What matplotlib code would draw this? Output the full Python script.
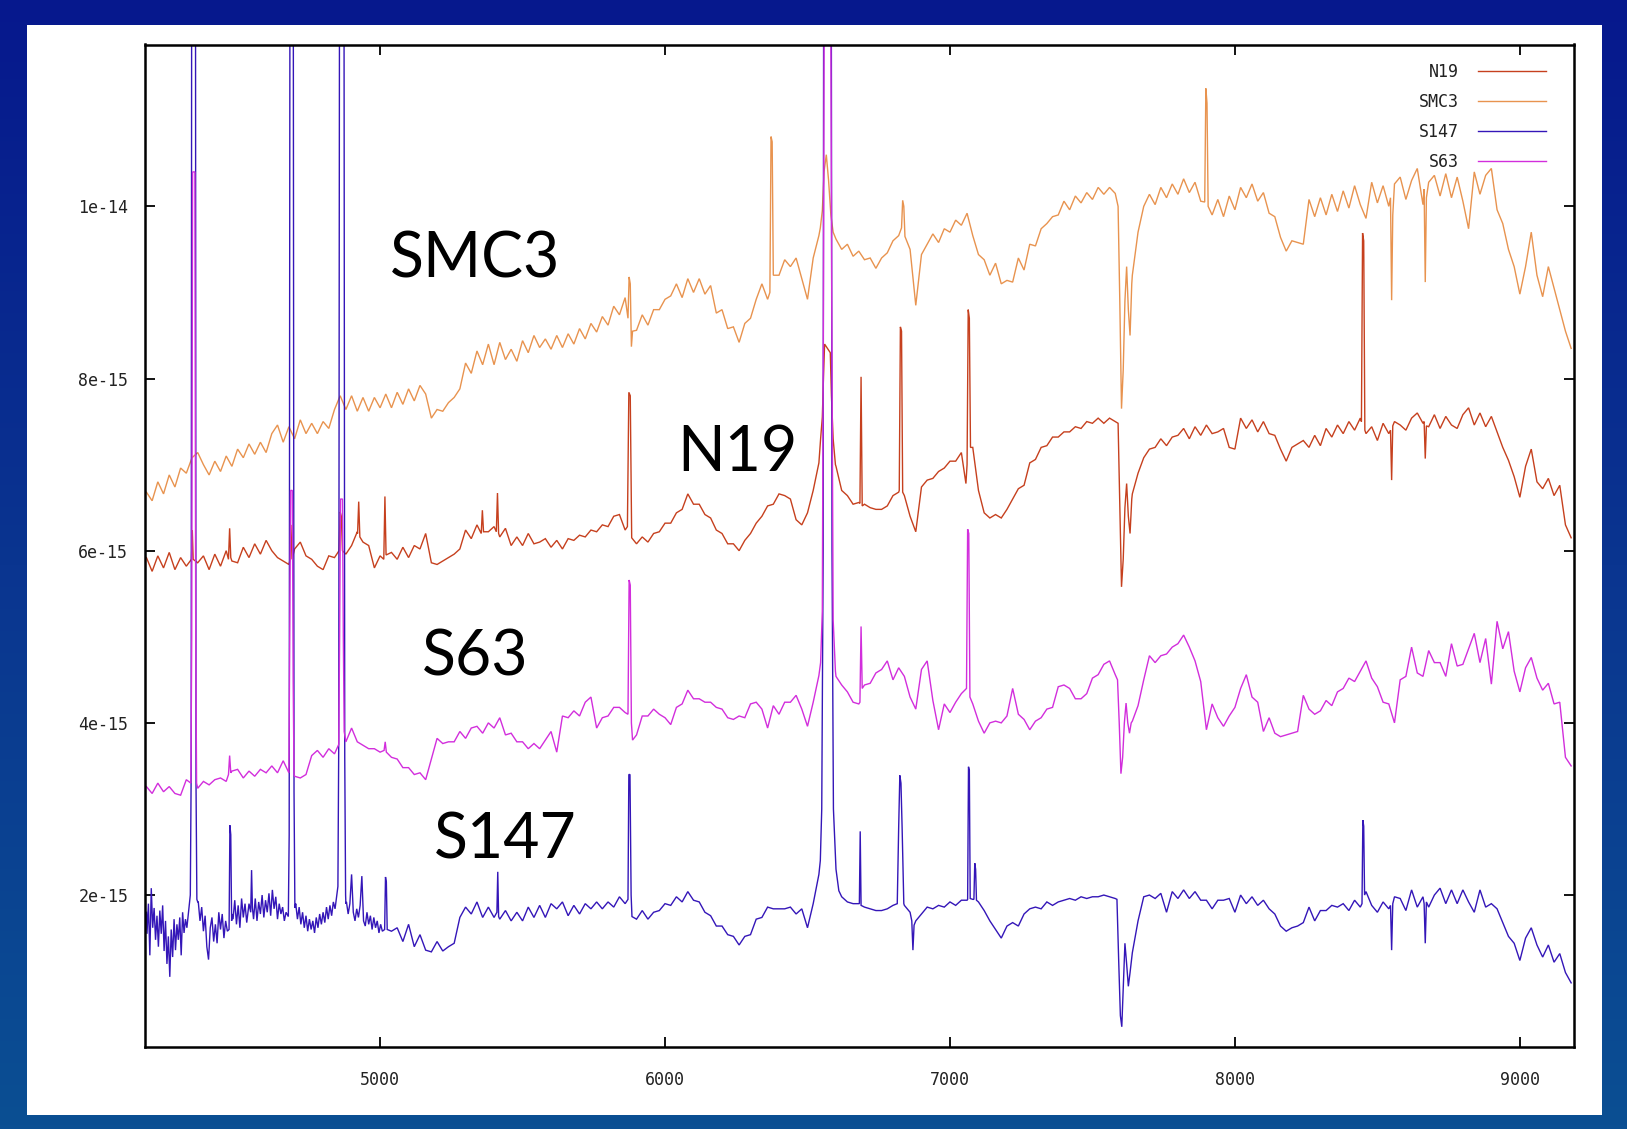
import numpy as np
import matplotlib
matplotlib.use("Agg")
import matplotlib.pyplot as plt
from matplotlib.patches import Rectangle
from matplotlib.colors import LinearSegmentedColormap

# ---------------- data (flux in units of 1e-15) ----------------
WAVE_START, WAVE_STOP, WAVE_STEP = 4180, 9180, 20
wave = np.arange(WAVE_START, WAVE_STOP + 1, WAVE_STEP)

series_names = ["N19", "SMC3", "S147", "S63"]
x_ticks = [5000, 6000, 7000, 8000, 9000]
y_ticks = [2e-15, 4e-15, 6e-15, 8e-15, 1e-14]
y_tick_labels = ["2e-15", "4e-15", "6e-15", "8e-15", "1e-14"]

smc3_cont = [
    6.68, 6.58, 6.80, 6.66, 6.88, 6.74, 6.96, 6.90, 7.08, 7.14,
    7.00, 6.88, 7.04, 6.92, 7.10, 6.98, 7.18, 7.08, 7.24, 7.12,
    7.26, 7.14, 7.36, 7.46, 7.26, 7.44, 7.30, 7.52, 7.36, 7.48,
    7.36, 7.50, 7.42, 7.64, 7.80, 7.64, 7.80, 7.62, 7.78, 7.62,
    7.78, 7.66, 7.82, 7.66, 7.84, 7.70, 7.88, 7.74, 7.92, 7.82,
    7.54, 7.64, 7.62, 7.72, 7.78, 7.88, 8.18, 8.06, 8.32, 8.16,
    8.40, 8.16, 8.42, 8.22, 8.34, 8.20, 8.44, 8.30, 8.50, 8.36,
    8.46, 8.34, 8.50, 8.36, 8.52, 8.40, 8.58, 8.46, 8.64, 8.54,
    8.72, 8.62, 8.84, 8.74, 8.94, 8.50, 8.56, 8.74, 8.62, 8.80,
    8.80, 8.92, 8.96, 9.10, 8.94, 9.16, 9.00, 9.16, 8.98, 9.08,
    8.76, 8.80, 8.58, 8.60, 8.42, 8.64, 8.70, 8.92, 9.10, 8.92,
    9.24, 9.20, 9.38, 9.30, 9.40, 9.16, 8.92, 9.40, 9.66, 10.2,
    9.90, 9.62, 9.50, 9.56, 9.42, 9.48, 9.38, 9.40, 9.28, 9.40,
    9.46, 9.60, 9.66, 9.78, 9.50, 8.85, 9.44, 9.56, 9.68, 9.58,
    9.74, 9.70, 9.84, 9.78, 9.92, 9.66, 9.44, 9.38, 9.20, 9.34,
    9.10, 9.14, 9.12, 9.40, 9.26, 9.56, 9.54, 9.74, 9.80, 9.88,
    9.90, 10.06, 9.96, 10.12, 10.04, 10.16, 10.08, 10.22, 10.14, 10.22,
    10.15, 9.00, 8.90, 9.20, 9.70, 10.00, 10.14, 10.02, 10.22, 10.10,
    10.26, 10.14, 10.32, 10.16, 10.28, 10.06, 10.30, 9.90, 10.08, 9.88,
    10.12, 9.96, 10.22, 10.10, 10.26, 10.06, 10.16, 9.92, 9.88, 9.64,
    9.48, 9.60, 9.58, 9.56, 10.08, 9.88, 10.10, 9.90, 10.14, 9.94,
    10.18, 9.98, 10.24, 10.02, 9.86, 10.28, 10.04, 10.24, 10.00, 10.26,
    10.34, 10.08, 10.30, 10.44, 10.02, 10.28, 10.36, 10.12, 10.38, 10.10,
    10.34, 10.06, 9.74, 10.40, 10.14, 10.36, 10.44, 9.96, 9.80, 9.50,
    9.30, 8.98, 9.30, 9.70, 9.20, 8.95, 9.30, 9.05, 8.80, 8.55,
    8.35,
]
smc3_lines_w = [
    [5870, 5874, 5878, 5882, 5886],
    [6368, 6372, 6376, 6380],
    [6545, 6552, 6558, 6566, 6574, 6582, 6590],
    [6830, 6834, 6838, 6842],
    [7590, 7596, 7602, 7608, 7614, 7620, 7626, 7632, 7638],
    [7894, 7898, 7902, 7906],
    [8546, 8550, 8554],
    [8664, 8668, 8672],
]
smc3_lines_f = [
    [8.70, 9.18, 9.10, 8.37, 8.55],
    [9.00, 10.81, 10.75, 9.20],
    [9.75, 9.95, 10.40, 10.60, 10.30, 9.90, 9.70],
    [9.75, 10.07, 10.00, 9.65],
    [10.00, 8.90, 7.65, 8.10, 8.90, 9.30, 8.80, 8.50, 9.10],
    [10.05, 11.37, 11.20, 10.00],
    [10.10, 8.91, 9.90],
    [10.20, 9.12, 10.10],
]

n19_cont = [
    5.92, 5.76, 5.94, 5.80, 5.98, 5.78, 5.92, 5.82, 5.95, 5.86,
    5.94, 5.78, 5.96, 5.82, 6.00, 5.88, 5.86, 6.04, 5.92, 6.08,
    5.96, 6.12, 6.00, 5.92, 5.88, 5.84, 6.02, 6.10, 5.94, 5.90,
    5.82, 5.78, 5.94, 5.92, 6.20, 5.96, 6.06, 6.22, 6.10, 6.06,
    5.80, 5.94, 5.95, 5.98, 5.90, 6.04, 5.92, 6.06, 6.02, 6.20,
    5.86, 5.84, 5.88, 5.92, 5.96, 6.02, 6.24, 6.14, 6.30, 6.20,
    6.22, 6.28, 6.16, 6.26, 6.06, 6.16, 6.06, 6.20, 6.08, 6.10,
    6.14, 6.04, 6.12, 6.02, 6.14, 6.12, 6.18, 6.16, 6.24, 6.22,
    6.30, 6.28, 6.40, 6.42, 6.24, 6.10, 6.08, 6.16, 6.10, 6.20,
    6.22, 6.32, 6.32, 6.44, 6.48, 6.66, 6.54, 6.54, 6.42, 6.38,
    6.24, 6.20, 6.08, 6.08, 6.00, 6.12, 6.20, 6.32, 6.40, 6.52,
    6.54, 6.66, 6.64, 6.60, 6.36, 6.30, 6.44, 6.70, 7.02, 8.30,
    8.00, 6.98, 6.70, 6.64, 6.54, 6.56, 6.54, 6.50, 6.48, 6.48,
    6.52, 6.64, 6.68, 6.64, 6.40, 6.22, 6.74, 6.82, 6.84, 6.92,
    6.96, 7.04, 7.04, 7.14, 7.00, 7.20, 6.70, 6.44, 6.38, 6.42,
    6.38, 6.48, 6.60, 6.72, 6.76, 7.02, 7.06, 7.20, 7.22, 7.32,
    7.32, 7.38, 7.38, 7.44, 7.42, 7.50, 7.48, 7.54, 7.48, 7.54,
    7.50, 5.60, 6.80, 6.66, 6.90, 7.08, 7.18, 7.20, 7.30, 7.22,
    7.32, 7.34, 7.42, 7.30, 7.44, 7.34, 7.46, 7.36, 7.38, 7.42,
    7.20, 7.18, 7.54, 7.42, 7.52, 7.38, 7.50, 7.36, 7.34, 7.18,
    7.04, 7.20, 7.24, 7.28, 7.20, 7.34, 7.22, 7.42, 7.32, 7.46,
    7.36, 7.50, 7.40, 7.54, 7.36, 7.44, 7.28, 7.48, 7.36, 7.50,
    7.46, 7.40, 7.54, 7.60, 7.48, 7.44, 7.58, 7.42, 7.56, 7.46,
    7.42, 7.58, 7.66, 7.46, 7.60, 7.44, 7.56, 7.38, 7.20, 7.05,
    6.86, 6.62, 6.98, 7.18, 6.80, 6.72, 6.84, 6.64, 6.76, 6.30,
    6.15,
]
n19_lines_w = [
    [4338, 4341, 4344],
    [4468, 4472, 4476],
    [4683, 4687, 4691],
    [4856, 4860, 4864, 4868],
    [4921, 4925, 4929],
    [5013, 5017, 5021],
    [5355, 5359, 5363],
    [5408, 5412, 5416],
    [5868, 5873, 5878, 5883],
    [6546, 6552, 6556, 6560, 6580, 6584, 6590, 6598],
    [6684, 6688, 6692],
    [6822, 6826, 6830, 6834],
    [7056, 7060, 7064, 7068, 7072],
    [7590, 7596, 7602, 7608, 7614, 7620, 7626, 7632, 7638],
    [8444, 8448, 8452, 8456],
    [8546, 8550, 8554],
    [8664, 8668, 8672],
]
n19_lines_f = [
    [5.90, 6.24, 5.90],
    [5.90, 6.26, 5.92],
    [5.88, 6.30, 5.90],
    [6.00, 6.45, 6.40, 6.00],
    [6.20, 6.57, 6.16],
    [5.90, 6.63, 5.95],
    [6.20, 6.47, 6.22],
    [6.22, 6.67, 6.20],
    [6.28, 7.84, 7.80, 6.15],
    [7.30, 7.55, 8.00, 8.40, 8.30, 7.80, 7.30, 7.00],
    [6.55, 8.02, 6.52],
    [6.70, 8.60, 8.55, 6.68],
    [6.78, 7.00, 8.80, 8.70, 7.20],
    [7.48, 6.50, 5.58, 5.90, 6.50, 6.78, 6.40, 6.20, 6.60],
    [7.50, 9.69, 9.60, 7.40],
    [7.40, 6.82, 7.45],
    [7.50, 7.07, 7.45],
]

s63_cont = [
    3.26, 3.18, 3.30, 3.20, 3.26, 3.18, 3.16, 3.34, 3.40, 3.24,
    3.32, 3.28, 3.34, 3.36, 3.32, 3.44, 3.46, 3.36, 3.44, 3.38,
    3.46, 3.42, 3.50, 3.42, 3.56, 3.42, 3.38, 3.36, 3.40, 3.62,
    3.68, 3.60, 3.70, 3.64, 3.70, 3.78, 3.94, 3.78, 3.74, 3.70,
    3.70, 3.66, 3.66, 3.60, 3.58, 3.48, 3.48, 3.40, 3.42, 3.34,
    3.58, 3.82, 3.76, 3.78, 3.78, 3.90, 3.82, 3.94, 3.96, 3.88,
    4.00, 3.94, 4.06, 3.86, 3.88, 3.78, 3.78, 3.70, 3.76, 3.70,
    3.80, 3.90, 3.66, 4.08, 4.06, 4.14, 4.08, 4.24, 4.30, 3.94,
    4.06, 4.08, 4.18, 4.18, 4.12, 3.90, 3.86, 4.08, 4.08, 4.16,
    4.10, 4.06, 3.98, 4.18, 4.22, 4.38, 4.28, 4.28, 4.24, 4.24,
    4.18, 4.16, 4.06, 4.04, 4.08, 4.06, 4.22, 4.24, 4.16, 3.94,
    4.20, 4.10, 4.24, 4.24, 4.32, 4.16, 3.96, 4.24, 4.55, 14.0,
    14.0, 4.54, 4.44, 4.36, 4.24, 4.22, 4.44, 4.46, 4.58, 4.62,
    4.72, 4.50, 4.64, 4.54, 4.30, 4.16, 4.62, 4.72, 4.26, 3.92,
    4.22, 4.12, 4.24, 4.34, 4.45, 4.22, 4.02, 3.88, 4.00, 4.02,
    4.00, 4.08, 4.40, 4.10, 4.04, 3.92, 4.02, 4.06, 4.16, 4.18,
    4.42, 4.44, 4.40, 4.28, 4.28, 4.34, 4.52, 4.56, 4.68, 4.72,
    4.56, 3.40, 4.20, 4.02, 4.20, 4.50, 4.78, 4.70, 4.78, 4.80,
    4.88, 4.92, 5.02, 4.88, 4.72, 4.48, 3.92, 4.22, 4.06, 3.96,
    4.08, 4.18, 4.40, 4.56, 4.30, 4.24, 3.90, 4.06, 3.88, 3.84,
    3.86, 3.88, 3.90, 4.32, 4.16, 4.10, 4.14, 4.26, 4.20, 4.36,
    4.40, 4.52, 4.48, 4.60, 4.72, 4.52, 4.42, 4.24, 4.22, 4.00,
    4.50, 4.54, 4.88, 4.58, 4.54, 4.84, 4.70, 4.70, 4.54, 4.92,
    4.66, 4.68, 4.86, 5.04, 4.70, 4.98, 4.45, 5.18, 4.86, 5.06,
    4.60, 4.36, 4.64, 4.76, 4.52, 4.38, 4.46, 4.22, 4.24, 3.60,
    3.50,
]
s63_lines_w = [
    [4336, 4339, 4342, 4350, 4353, 4356],
    [4468, 4472, 4476],
    [4680, 4683, 4686, 4692, 4695, 4698],
    [4855, 4858, 4861, 4868, 4871, 4874],
    [5014, 5018, 5022],
    [5870, 5874, 5878, 5882, 5886],
    [6546, 6552, 6556, 6560, 6580, 6585, 6590, 6598],
    [6684, 6688, 6692],
    [7058, 7062, 7066, 7070],
    [7588, 7594, 7600, 7606, 7612, 7618, 7624, 7630, 7636],
]
s63_lines_f = [
    [3.30, 5.00, 10.40, 10.40, 5.00, 3.30],
    [3.40, 3.62, 3.42],
    [3.42, 5.00, 6.70, 6.70, 4.50, 3.40],
    [3.75, 5.00, 6.60, 6.60, 5.00, 3.90],
    [3.68, 3.78, 3.66],
    [4.10, 5.66, 5.60, 4.00, 3.80],
    [4.70, 5.30, 9.00, 14.0, 14.0, 9.00, 5.20, 4.60],
    [4.24, 5.12, 4.40],
    [4.40, 6.25, 6.20, 4.30],
    [4.50, 4.00, 3.41, 3.60, 4.00, 4.23, 4.00, 3.88, 4.00],
]

s147_cont = [
    1.80, 1.70, 1.60, 1.60, 1.40, 1.50, 1.50, 1.70, 14.0, 1.92,
    1.86, 1.30, 1.74, 1.44, 1.84, 1.78, 1.96, 1.62, 1.90, 1.72,
    1.94, 1.74, 2.00, 1.76, 2.06, 1.80, 1.90, 1.64, 1.74, 1.56,
    1.74, 1.64, 1.84, 1.76, 14.0, 1.90, 2.20, 1.70, 2.20, 1.60,
    1.78, 1.54, 1.90, 1.58, 1.62, 1.46, 1.66, 1.40, 1.54, 1.36,
    1.34, 1.46, 1.35, 1.40, 1.44, 1.74, 1.86, 1.78, 1.92, 1.74,
    1.86, 1.74, 1.72, 1.82, 1.70, 1.80, 1.70, 1.86, 1.74, 1.88,
    1.74, 1.90, 1.84, 1.92, 1.76, 1.88, 1.78, 1.90, 1.84, 1.92,
    1.84, 1.92, 1.86, 1.98, 1.90, 1.80, 1.72, 1.82, 1.72, 1.80,
    1.82, 1.90, 1.88, 1.98, 1.92, 2.04, 1.94, 1.92, 1.80, 1.76,
    1.64, 1.64, 1.54, 1.52, 1.42, 1.52, 1.54, 1.72, 1.74, 1.86,
    1.84, 1.84, 1.84, 1.86, 1.78, 1.84, 1.62, 1.90, 2.24, 14.0,
    14.0, 2.30, 1.98, 1.92, 1.90, 1.90, 1.86, 1.84, 1.82, 1.82,
    1.84, 1.88, 2.80, 1.88, 1.80, 1.70, 1.78, 1.86, 1.84, 1.88,
    1.86, 1.92, 1.88, 1.94, 1.94, 1.95, 1.92, 1.82, 1.70, 1.60,
    1.50, 1.64, 1.68, 1.64, 1.78, 1.84, 1.86, 1.84, 1.92, 1.88,
    1.92, 1.94, 1.96, 1.94, 1.98, 1.96, 1.98, 1.98, 2.00, 1.98,
    1.96, 0.50, 1.20, 1.33, 1.70, 1.98, 2.00, 1.96, 2.02, 1.80,
    2.04, 1.96, 2.06, 1.96, 2.04, 1.94, 1.94, 1.84, 1.94, 1.94,
    1.96, 1.80, 2.00, 1.90, 1.98, 1.88, 1.94, 1.84, 1.78, 1.64,
    1.58, 1.62, 1.64, 1.68, 1.86, 1.70, 1.82, 1.82, 1.88, 1.86,
    1.90, 1.82, 1.94, 1.86, 2.04, 1.88, 1.80, 1.92, 1.84, 1.98,
    1.96, 1.82, 2.06, 1.86, 1.98, 1.86, 2.00, 2.08, 1.90, 2.06,
    1.90, 2.06, 1.92, 1.80, 2.06, 1.86, 1.90, 1.84, 1.68, 1.52,
    1.44, 1.24, 1.50, 1.62, 1.42, 1.28, 1.42, 1.22, 1.32, 1.10,
    0.98,
]
s147_lines_w = [
    [4182, 4187, 4192, 4197, 4202, 4207, 4212, 4217, 4222, 4227,
     4232, 4237, 4242, 4247, 4252, 4257, 4262, 4267, 4272, 4277,
     4282, 4287, 4292, 4297, 4302, 4307, 4312, 4317, 4322, 4327],
    [4334, 4337, 4339, 4352, 4354, 4357],
    list(range(4362, 4465, 6)),
    [4470, 4473, 4476, 4479],
    list(range(4484, 4539, 6)),
    [4546, 4549, 4552],
    list(range(4556, 4671, 6)),
    [4678, 4681, 4684, 4695, 4698, 4701],
    list(range(4704, 4849, 6)),
    [4852, 4855, 4858, 4873, 4876, 4879],
    list(range(4882, 5009, 6)),
    [5016, 5019, 5022, 5025],
    [5410, 5413, 5416],
    [5870, 5873, 5877, 5881, 5884],
    [6545, 6550, 6555, 6557, 6583, 6586, 6591, 6600, 6610],
    [6682, 6685, 6688],
    [6815, 6820, 6824, 6828, 6832, 6838],
    [6866, 6870, 6874],
    [7062, 7065, 7068, 7071],
    [7084, 7087, 7090, 7093],
    [7586, 7592, 7598, 7603, 7608, 7614, 7620, 7626, 7632, 7640],
    [8446, 8449, 8452, 8455],
    [8546, 8550, 8554],
    [8664, 8668, 8672],
]
s147_lines_f = [
    [1.55, 1.90, 1.30, 2.08, 1.62, 1.85, 1.48, 1.76, 1.40, 1.82,
     1.55, 1.88, 1.35, 1.70, 1.20, 1.52, 1.05, 1.60, 1.28, 1.72,
     1.36, 1.66, 1.48, 1.74, 1.30, 1.80, 1.56, 1.72, 1.62, 1.78],
    [2.00, 3.40, 14.0, 14.0, 3.30, 1.95],
    [1.92, 1.70, 1.86, 1.58, 1.76, 1.40, 1.25, 1.62, 1.74, 1.46,
     1.66, 1.44, 1.80, 1.60, 1.78, 1.50, 1.70, 1.58],
    [1.60, 2.81, 2.70, 1.70],
    [1.72, 1.94, 1.66, 1.88, 1.62, 1.96, 1.74, 1.90, 1.68, 1.84],
    [1.80, 2.29, 1.85],
    [1.72, 1.96, 1.70, 1.92, 1.78, 2.00, 1.74, 1.94, 1.80, 2.02,
     1.76, 2.06, 1.84, 1.98, 1.72, 1.90, 1.78, 1.86, 1.70, 1.80],
    [1.75, 2.70, 14.0, 14.0, 3.20, 1.85],
    [1.90, 1.72, 1.86, 1.66, 1.80, 1.62, 1.76, 1.58, 1.72, 1.60,
     1.70, 1.56, 1.74, 1.62, 1.78, 1.66, 1.80, 1.68, 1.86, 1.72,
     1.88, 1.76, 1.92, 1.84, 2.00],
    [2.10, 3.80, 14.0, 14.0, 3.60, 2.00],
    [1.92, 1.78, 1.90, 2.24, 1.80, 1.70, 1.84, 1.74, 1.88, 2.22,
     1.70, 1.64, 1.80, 1.66, 1.76, 1.60, 1.74, 1.62, 1.70, 1.56,
     1.66, 1.58],
    [1.60, 2.21, 2.15, 1.60],
    [1.80, 2.27, 1.75],
    [1.95, 3.40, 3.40, 2.00, 1.75],
    [2.40, 3.00, 6.00, 14.0, 14.0, 6.00, 3.00, 2.30, 2.05],
    [1.90, 2.74, 1.88],
    [1.90, 2.79, 3.39, 3.30, 2.79, 1.90],
    [1.70, 1.36, 1.65],
    [1.95, 3.49, 3.45, 1.96],
    [1.95, 2.37, 2.30, 1.94],
    [1.95, 1.25, 0.60, 0.47, 0.90, 1.44, 1.20, 0.94, 1.10, 1.33],
    [1.90, 2.87, 2.80, 2.00],
    [1.88, 1.36, 1.90],
    [1.90, 1.44, 1.92],
]

label_text = ["SMC3", "N19", "S63", "S147"]
label_x = [5333, 6253, 5333, 5439]
label_y = [9.17, 6.92, 4.555, 2.43]

# ---------------- styling ----------------
colors = {"N19": "#c6401e", "SMC3": "#e8934f", "S147": "#3416b8", "S63": "#d22edc"}
FLUX_UNIT = 1e-15


def build(cont, lines_w, lines_f):
    w = np.asarray(wave, dtype=float)
    f = np.asarray(cont, dtype=float)
    assert len(w) == len(f), (len(w), len(f))
    for bw, bf in zip(lines_w, lines_f):
        assert len(bw) == len(bf), (bw[0], len(bw), len(bf))
    keep = np.ones(len(w), dtype=bool)
    for bw in lines_w:
        keep &= ~((w >= min(bw)) & (w <= max(bw)))
    ww = np.concatenate([w[keep]] + [np.asarray(b, float) for b in lines_w])
    ff = np.concatenate([f[keep]] + [np.asarray(b, float) for b in lines_f])
    order = np.argsort(ww, kind="stable")
    return ww[order], ff[order] * FLUX_UNIT


spectra = {
    "N19": build(n19_cont, n19_lines_w, n19_lines_f),
    "SMC3": build(smc3_cont, smc3_lines_w, smc3_lines_f),
    "S147": build(s147_cont, s147_lines_w, s147_lines_f),
    "S63": build(s63_cont, s63_lines_w, s63_lines_f),
}

W, H = 1627, 1129
fig = plt.figure(figsize=(W / 100, H / 100), dpi=100)

# blue slide background with gradient
bg = fig.add_axes([0, 0, 1, 1])
bg.set_axis_off()
grad = np.linspace(0, 1, 256).reshape(-1, 1)
cmap = LinearSegmentedColormap.from_list("bg", ["#0b4f93", "#0a3590", "#06188d"])
bg.imshow(grad, aspect="auto", cmap=cmap, extent=[0, 1, 0, 1], origin="lower")
bg.set_xlim(0, 1)
bg.set_ylim(0, 1)
bg.add_patch(Rectangle((27 / W, 1 - 1115 / H), (1602 - 27) / W, (1115 - 25) / H,
                       facecolor="white", edgecolor="none", transform=bg.transAxes))

# main plot
ax = fig.add_axes([145 / W, 1 - 1047 / H, (1574 - 145) / W, (1047 - 44.5) / H])
ax.set_facecolor("white")
for name in series_names:
    w, f = spectra[name]
    ax.plot(w, f, color=colors[name], lw=1.0, label=name, solid_joinstyle="miter")

ax.set_xlim(4175, 9190)
ax.set_ylim(0.235e-15, 11.88e-15)
ax.set_xticks(x_ticks)
ax.set_xticklabels([str(t) for t in x_ticks])
ax.set_yticks(y_ticks)
ax.set_yticklabels(y_tick_labels)

mono = "DejaVu Sans Mono"
for lab in ax.get_xticklabels() + ax.get_yticklabels():
    lab.set_family(mono)
    lab.set_fontsize(12)
    lab.set_color("#222222")
ax.tick_params(direction="in", length=7, width=1.3, top=True, right=True,
               color="black")
ax.tick_params(axis="y", pad=12)
ax.tick_params(axis="x", pad=17)
for sp in ax.spines.values():
    sp.set_linewidth(1.8)
    sp.set_color("black")

leg = ax.legend(loc="upper right", bbox_to_anchor=(0.9804, 0.982), frameon=False,
                markerfirst=False, handlelength=4.1, handletextpad=1.1,
                labelspacing=0.72, borderpad=0, borderaxespad=0,
                prop={"family": mono, "size": 12})
for t in leg.get_texts():
    t.set_color("#222222")

for txt, x, y in zip(label_text, label_x, label_y):
    ax.text(x, y * FLUX_UNIT, txt, ha="center", va="baseline",
            fontsize=45, family="Lato", color="black")

fig.savefig("out.png", dpi=100)
